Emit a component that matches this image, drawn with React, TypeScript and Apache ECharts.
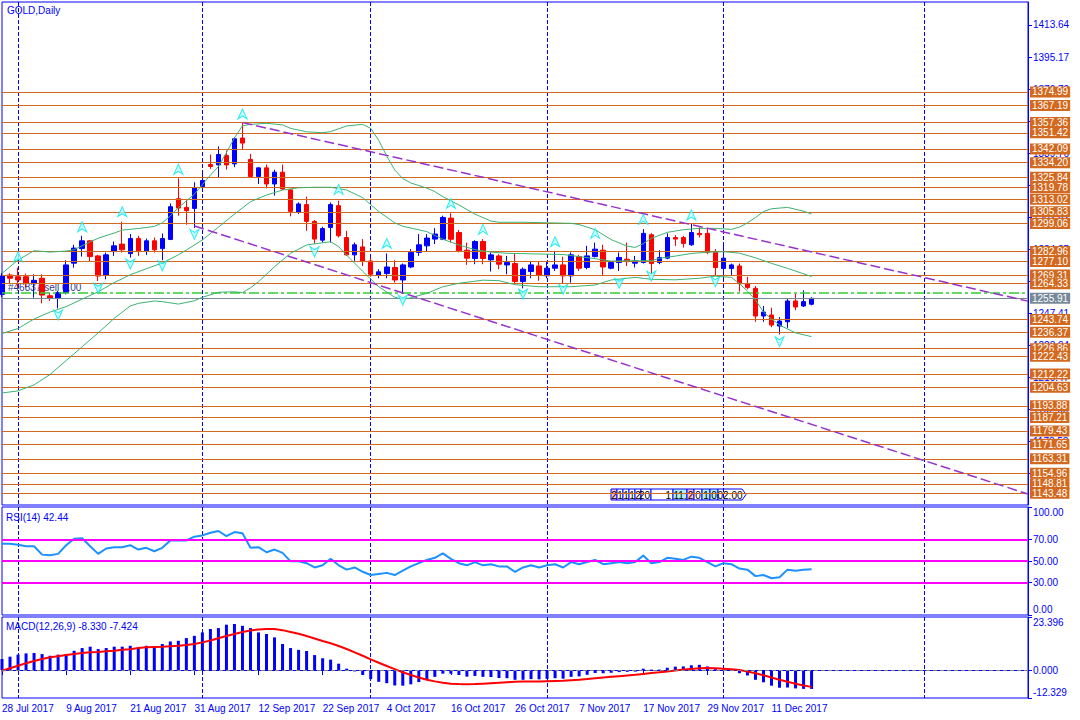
import React, { useEffect, useRef } from 'react';
import * as echarts from 'echarts';

const FONT = '"Liberation Sans", Arial, sans-serif';

const MONTH_NAMES = ['Jan', 'Feb', 'Mar', 'Apr', 'May', 'Jun', 'Jul', 'Aug', 'Sep', 'Oct', 'Nov', 'Dec'];
function tradingDays(startIso: string, count: number): string[] {
  const out: string[] = [];
  const d = new Date(startIso + 'T00:00:00Z');
  while (out.length < count) {
    const wd = d.getUTCDay();
    if (wd !== 0 && wd !== 6) out.push(`${d.getUTCDate()} ${MONTH_NAMES[d.getUTCMonth()]} ${d.getUTCFullYear()}`);
    d.setUTCDate(d.getUTCDate() + 1);
  }
  return out;
}

// ---------------- data ----------------
const START_DATE = '2017-07-28';
const SLOT_COUNT = 129; // bars + empty future area to the right
const categories = tradingDays(START_DATE, SLOT_COUNT);
const LAST_BAR = 101;
const DATE_LABEL_STEP = 8;
const monthGridIdx = [2, 25, 46, 68, 90, 115];

const opens = [1258.2, 1269.4, 1268.4, 1268.4, 1264.4, 1267.5, 1257.4, 1255.9, 1259.2, 1276.2, 1284.6, 1289.1, 1280.4, 1269.4, 1282.9, 1287.2, 1281.7, 1290.4, 1283.3, 1289.1, 1284.6, 1289.9, 1313.4, 1308.4, 1307.8, 1320.4, 1333.1, 1332.9, 1338.3, 1333.5, 1348.4, 1336.0, 1326.2, 1331.2, 1321.9, 1328.7, 1318.5, 1305.5, 1310.0, 1300.3, 1289.5, 1296.8, 1309.4, 1291.0, 1281.0, 1285.6, 1277.5, 1269.2, 1270.2, 1273.7, 1266.5, 1274.0, 1282.4, 1286.2, 1290.1, 1290.0, 1302.2, 1293.9, 1283.7, 1278.9, 1288.7, 1278.1, 1280.4, 1275.2, 1276.0, 1265.6, 1271.4, 1274.6, 1268.9, 1273.3, 1275.2, 1268.9, 1280.0, 1273.7, 1280.0, 1283.7, 1273.3, 1276.6, 1278.5, 1276.2, 1276.6, 1292.6, 1276.6, 1279.1, 1291.0, 1291.0, 1286.8, 1293.4, 1293.4, 1282.4, 1273.1, 1273.1, 1274.6, 1264.4, 1261.7, 1245.7, 1246.3, 1239.9, 1242.4, 1254.4, 1251.5, 1252.5];
const highs = [1270.5, 1270.4, 1273.6, 1270.2, 1269.8, 1269.8, 1259.2, 1260.2, 1277.9, 1286.8, 1292.0, 1289.5, 1281.0, 1282.3, 1288.7, 1300.1, 1293.0, 1292.0, 1290.4, 1291.0, 1293.3, 1310.7, 1325.2, 1312.7, 1322.9, 1329.2, 1338.9, 1343.6, 1341.2, 1348.9, 1357.3, 1339.3, 1331.5, 1333.1, 1330.1, 1333.1, 1318.8, 1311.3, 1314.6, 1301.1, 1297.2, 1311.3, 1312.3, 1294.9, 1288.1, 1290.1, 1279.5, 1272.7, 1281.8, 1277.9, 1276.0, 1284.3, 1293.0, 1293.0, 1296.4, 1303.6, 1305.0, 1295.3, 1288.1, 1289.5, 1290.1, 1282.4, 1281.4, 1280.4, 1281.8, 1273.7, 1277.5, 1277.5, 1277.5, 1283.3, 1279.9, 1282.4, 1281.0, 1286.2, 1288.1, 1286.8, 1277.5, 1282.4, 1288.1, 1280.4, 1295.9, 1293.5, 1283.7, 1293.4, 1292.4, 1292.0, 1298.8, 1296.8, 1295.9, 1284.3, 1288.2, 1276.0, 1276.0, 1268.3, 1263.0, 1251.5, 1250.5, 1245.1, 1255.9, 1258.6, 1260.5, 1256.5];
const lows = [1256.5, 1264.4, 1262.1, 1262.1, 1256.3, 1253.0, 1254.4, 1250.1, 1258.2, 1273.6, 1280.0, 1277.1, 1265.9, 1266.9, 1280.4, 1282.3, 1279.4, 1280.4, 1281.0, 1282.3, 1277.9, 1289.5, 1303.6, 1298.4, 1296.5, 1319.6, 1330.6, 1325.8, 1330.2, 1331.6, 1341.6, 1325.4, 1321.9, 1319.4, 1315.2, 1318.5, 1303.2, 1304.6, 1294.9, 1287.5, 1288.1, 1288.1, 1291.0, 1280.4, 1277.5, 1274.6, 1268.3, 1267.5, 1267.5, 1265.0, 1258.6, 1273.3, 1280.4, 1282.7, 1287.2, 1289.5, 1288.1, 1282.4, 1275.2, 1275.6, 1275.6, 1271.4, 1272.7, 1269.8, 1264.0, 1261.7, 1267.5, 1266.0, 1267.5, 1271.7, 1264.4, 1265.0, 1271.7, 1272.7, 1279.5, 1268.9, 1272.7, 1271.7, 1274.6, 1273.7, 1276.0, 1270.2, 1275.6, 1278.5, 1286.2, 1285.2, 1286.2, 1291.0, 1281.4, 1268.9, 1266.0, 1269.4, 1259.8, 1261.1, 1242.4, 1242.4, 1239.3, 1235.1, 1238.9, 1249.0, 1250.9, 1251.9];
const closes = [1268.8, 1267.5, 1266.5, 1264.4, 1266.3, 1257.8, 1255.9, 1259.2, 1275.2, 1284.9, 1289.1, 1280.0, 1268.8, 1281.0, 1286.2, 1283.9, 1290.4, 1283.3, 1289.1, 1283.9, 1290.4, 1308.8, 1308.0, 1306.5, 1319.6, 1323.9, 1332.0, 1338.9, 1332.9, 1348.0, 1345.5, 1326.2, 1331.2, 1321.9, 1328.7, 1319.0, 1306.1, 1310.4, 1300.3, 1290.1, 1296.2, 1310.0, 1292.0, 1281.0, 1286.8, 1277.5, 1269.8, 1271.2, 1274.0, 1266.5, 1275.2, 1282.4, 1286.8, 1290.7, 1293.0, 1302.6, 1290.0, 1283.3, 1279.1, 1288.7, 1278.9, 1281.0, 1275.6, 1276.6, 1265.6, 1272.7, 1275.2, 1269.4, 1273.3, 1275.2, 1268.9, 1281.0, 1273.3, 1280.4, 1284.3, 1274.0, 1276.6, 1279.5, 1277.1, 1277.5, 1293.4, 1276.0, 1279.5, 1291.0, 1290.1, 1287.6, 1293.9, 1292.6, 1282.4, 1273.7, 1279.1, 1275.2, 1264.4, 1262.1, 1245.7, 1248.0, 1240.5, 1242.8, 1254.4, 1250.9, 1254.0, 1255.91];

const rsi = [66, 66, 65, 63.7, 63.7, 55.9, 55.3, 56.6, 64.6, 70.6, 71, 63.7, 56.6, 61.6, 62.8, 62.8, 64.6, 60.6, 62.2, 59, 62.2, 69, 69, 69, 72.5, 73.7, 76.2, 77.8, 73.1, 76.8, 75.6, 62.2, 62.8, 58.1, 60.6, 57.5, 49.7, 49.7, 48, 44, 46, 52, 46, 42, 44, 40, 37, 38, 39, 37, 41, 45, 48, 51, 53, 57, 52, 48, 46, 49, 46, 47, 45, 45, 40, 44, 46, 44, 46, 47, 44, 49, 47, 49, 51, 47, 48, 49, 48, 49, 55, 48, 49, 53, 52, 51, 54, 53, 49, 45, 48, 47, 43, 42, 36, 37, 34, 35, 42, 41, 42, 42.44];
const macd = [4.85, 5.9, 6.8, 7.35, 7.5, 7.05, 6.3, 6.8, 7.05, 8.5, 9.7, 10.3, 9.26, 9.7, 10.3, 10.3, 10.7, 9.9, 10.7, 10.3, 11.5, 12.6, 12.9, 14.1, 15.1, 16.6, 18.1, 18.5, 20.0, 20.3, 19.5, 18.5, 16.6, 15.9, 14.4, 11.5, 9.7, 8.9, 8.4, 6.6, 5.2, 4.6, 2.8, 0.6, -0.6, -2.2, -4.0, -5.2, -5.8, -6.8, -6.9, -6.3, -5.3, -4.2, -3.0, -1.6, -1.6, -2.2, -2.9, -2.6, -3.0, -3.1, -3.5, -3.6, -4.3, -4.3, -4.0, -4.1, -3.9, -3.6, -3.8, -3.0, -2.8, -2.1, -1.3, -1.4, -1.2, -0.9, -0.8, -0.7, 0.6, 0.2, 0.2, 1.0, 1.5, 1.6, 2.1, 2.3, 1.6, 0.4, 0.2, -0.3, -1.4, -2.4, -4.3, -5.4, -6.9, -7.8, -7.7, -8.1, -8.3, -8.33];
const signal = [-0.3, 0.8, 1.9, 3.0, 4.0, 4.9, 5.6, 6.1, 6.6, 7.1, 7.5, 7.8, 8.0, 8.3, 8.5, 8.9, 9.2, 9.7, 10.1, 10.2, 10.3, 10.5, 10.7, 11.0, 11.5, 12.2, 13.0, 14.0, 15.0, 15.9, 16.8, 17.4, 17.9, 18.1, 18.1, 17.6, 16.8, 16.0, 15.0, 13.9, 12.8, 11.8, 10.6, 9.3, 7.8, 6.3, 4.7, 3.2, 1.8, 0.4, -1.0, -2.2, -3.3, -4.3, -5.0, -5.6, -6.0, -6.2, -6.3, -6.2, -6.0, -5.8, -5.6, -5.4, -5.2, -5.1, -5.0, -5.0, -4.9, -4.8, -4.7, -4.5, -4.3, -4.0, -3.6, -3.3, -3.0, -2.7, -2.4, -2.1, -1.7, -1.3, -1.0, -0.6, -0.2, 0.2, 0.5, 0.8, 0.9, 0.8, 0.6, 0.4, 0.0, -0.6, -1.4, -2.3, -3.3, -4.3, -5.2, -6.0, -6.8, -7.424];

const bbUpper = [[0, 1270.3], [2, 1278.0], [4, 1283.4], [6, 1282.6], [8, 1283.2], [9, 1284.0], [11, 1288.5], [12, 1290.6], [14, 1293.6], [15, 1295.3], [17, 1296.2], [19, 1297.4], [20, 1299.5], [21, 1303.5], [22, 1308.2], [24, 1316.0], [25, 1321.5], [26, 1327.0], [27, 1332.0], [28, 1340.0], [29, 1348.5], [30, 1355.5], [31, 1356.3], [33, 1356.9], [35, 1356.0], [36, 1354.0], [38, 1352.0], [40, 1351.5], [41, 1352.1], [43, 1355.4], [45, 1356.3], [46, 1354.0], [47, 1347.0], [48, 1338.0], [49, 1330.0], [50, 1325.0], [51, 1322.5], [53, 1319.5], [54, 1317.5], [55, 1314.6], [57, 1309.8], [59, 1304.5], [61, 1300.5], [62, 1299.8], [65, 1299.8], [68, 1299.5], [71, 1299.2], [72, 1298.5], [74, 1295.5], [76, 1289.8], [78, 1286.0], [79, 1285.3], [80, 1287.5], [81, 1290.5], [83, 1294.0], [85, 1295.5], [87, 1296.3], [89, 1296.3], [91, 1295.7], [92, 1297.0], [93, 1299.5], [94, 1302.5], [95, 1306.0], [96, 1307.6], [98, 1308.4], [100, 1306.2], [101, 1304.6]];
const bbMiddle = [[0, 1235.6], [2, 1238.5], [4, 1244.0], [6, 1248.0], [8, 1251.1], [10, 1255.5], [12, 1259.7], [14, 1265.0], [16, 1269.5], [18, 1273.0], [20, 1276.3], [22, 1281.0], [23, 1283.8], [25, 1289.6], [27, 1297.0], [29, 1304.5], [31, 1311.7], [33, 1315.5], [35, 1318.4], [37, 1319.7], [39, 1320.0], [41, 1320.0], [43, 1318.4], [45, 1314.0], [47, 1306.0], [49, 1299.5], [50, 1297.5], [53, 1294.4], [55, 1290.0], [57, 1286.7], [59, 1284.0], [61, 1282.6], [63, 1281.9], [66, 1281.6], [70, 1281.2], [72, 1280.0], [74, 1278.8], [76, 1277.4], [78, 1277.6], [81, 1277.6], [82, 1279.0], [84, 1280.3], [86, 1281.8], [88, 1282.5], [90, 1282.8], [92, 1282.0], [94, 1279.3], [96, 1276.1], [98, 1273.2], [101, 1268.5]];
const bbLower = [[0, 1201.3], [2, 1202.5], [4, 1206.0], [6, 1212.0], [8, 1220.0], [10, 1228.0], [12, 1236.0], [14, 1244.4], [16, 1251.5], [17, 1253.0], [19, 1254.4], [20, 1254.0], [22, 1252.6], [24, 1254.5], [25, 1256.5], [27, 1259.4], [29, 1259.7], [30, 1259.2], [31, 1262.0], [32, 1265.5], [34, 1274.2], [36, 1281.9], [38, 1286.7], [41, 1288.6], [42, 1285.7], [43, 1280.8], [45, 1271.5], [47, 1262.6], [49, 1256.5], [50, 1255.4], [51, 1256.2], [53, 1258.8], [55, 1262.6], [57, 1264.6], [60, 1266.4], [62, 1266.1], [64, 1263.8], [67, 1262.6], [71, 1262.6], [74, 1263.6], [76, 1266.5], [79, 1268.0], [81, 1266.9], [84, 1266.6], [87, 1267.5], [89, 1268.7], [91, 1268.0], [92, 1264.5], [93, 1260.0], [94, 1255.0], [95, 1248.0], [96, 1244.0], [97, 1240.5], [99, 1236.0], [101, 1233.8]];

const trendUpper = [[30, 1357.3], [128, 1254.3]];
const trendLower = [[24, 1297.7], [128, 1143.0]];

const fractalUp = [[2, 1279.9], [10, 1297.2], [15, 1305.9], [22, 1330.4], [30, 1362.3], [42, 1318.8], [48, 1287.6], [56, 1310.7], [60, 1295.7], [69, 1288.6], [74, 1293.4], [80, 1301.5], [86, 1304.0]];
const fractalDown = [[7, 1246.3], [12, 1261.7], [16, 1275.7], [20, 1274.7], [24, 1292.8], [39, 1282.8], [50, 1254.9], [65, 1258.4], [70, 1261.1], [77, 1264.6], [81, 1268.8], [89, 1265.5], [97, 1230.9]];

const levels = [1374.99, 1367.19, 1357.36, 1351.42, 1342.09, 1334.20, 1325.84, 1319.78, 1313.02, 1305.83, 1299.06, 1282.96, 1277.10, 1269.31, 1264.33, 1243.74, 1236.37, 1226.86, 1222.43, 1212.22, 1204.63, 1193.88, 1187.21, 1179.43, 1171.65, 1163.31, 1154.96, 1148.81, 1143.48];
const bidPrice = 1255.91;
const orderPrice = 1259.4;
const priceTicks = [1413.64, 1395.17, 1376.70, 1358.23, 1339.76, 1321.29, 1302.82, 1284.35, 1265.88, 1247.41, 1228.94, 1210.47, 1192.00, 1173.53, 1155.06];
const rsiLevels = [70, 50, 30];
const rsiTicks = [100, 70, 50, 30, 0];
const macdTicks = [23.396, 0, -12.329];

const titleText = 'GOLD,Daily';
const orderText = '#46837 sell 0.00';
const rsiText = 'RSI(14) 42.44';
const macdText = 'MACD(12,26,9) -8.330 -7.424';
const sessionTexts = ['2', '1', '1', '1', '2', '20:', '1', '11:', '2', '0', '1', '0', '02:00'];
const sessionFills = ['#FFC0CB', '#FFFFFF', '#FFFFFF', '#FFFFFF', '#FFFFFF', '#FFFFFF', '#FFFFFF', '#AFEEEE', '#FFC0CB', '#FFFFFF', '#AFEEEE', '#AFEEEE', '#FFFFFF'];

// ---------------- styles / layout ----------------
const BLUE = '#0000FF';
const RED = '#FF0000';
const ORANGE = '#D2691E';
const GREEN = '#3CB371';
const PURPLE = '#9932CC';
const CYAN = '#00E5EE';
const MAGENTA = '#FF00FF';
const FS = 10;
const sessionWidths = [6, 6, 6, 6, 6, 10, 22, 14, 7, 8, 8, 8, 24];

const ARROW_UP = 'path://M5,0 L10,10 L5,7 L0,10 Z';
const ARROW_DOWN = 'path://M0,0 L5,3 L10,0 L5,10 Z';

function buildOption() {
  const labelIdx = (idx: number) => idx % DATE_LABEL_STEP === 0 && idx <= LAST_BAR;
  const gridLineIdx = (idx: number) => monthGridIdx.indexOf(idx) >= 0;

  const grids = [
    { left: 2, top: 2, width: 1026, height: 503 },
    { left: 2, top: 507, width: 1026, height: 108 },
    { left: 2, top: 617, width: 1026, height: 81 },
  ].map((g) => ({ ...g, show: true, borderColor: BLUE, borderWidth: 1, backgroundColor: 'transparent', containLabel: false, outerBoundsMode: 'none' }));

  const xAxes = [0, 1, 2].map((i) => ({
    type: 'category',
    gridIndex: i,
    data: categories,
    boundaryGap: false,
    axisLine: { show: i === 2, lineStyle: { color: BLUE, width: 1 } },
    axisTick: { show: i === 2, interval: (idx: number) => labelIdx(idx), length: 5, lineStyle: { color: BLUE } },
    axisLabel: {
      show: i === 2,
      interval: (idx: number) => labelIdx(idx),
      align: 'left',
      color: BLUE,
      fontFamily: FONT,
      fontSize: FS,
      margin: 5,
    },
    splitLine: { show: true, interval: (idx: number) => gridLineIdx(idx), lineStyle: { color: BLUE, width: 1, type: [4, 2] } },
  }));

  const axisText = { color: BLUE, fontFamily: FONT, fontSize: FS };
  const yAxes = [
    {
      type: 'value', gridIndex: 0, position: 'right', min: 1136.66, max: 1426.91,
      axisLine: { show: true, lineStyle: { color: BLUE } },
      axisTick: { show: true, customValues: priceTicks, length: 4, lineStyle: { color: BLUE } },
      axisLabel: { show: true, customValues: priceTicks, formatter: (v: number) => v.toFixed(2), margin: 5, ...axisText },
      splitLine: { show: false },
    },
    {
      type: 'value', gridIndex: 1, position: 'right', min: 0, max: 100,
      axisLine: { show: true, lineStyle: { color: BLUE } },
      axisTick: { show: true, customValues: rsiTicks, length: 4, lineStyle: { color: BLUE } },
      axisLabel: {
        show: true, customValues: rsiTicks, margin: 5, ...axisText,
        formatter: (v: number) => (v === 100 ? `{t|${v.toFixed(2)}}` : v === 0 ? `{b|${v.toFixed(2)}}` : `{n|${v.toFixed(2)}}`),
        rich: { t: { ...axisText, padding: [11, 0, 0, 0] }, b: { ...axisText, padding: [0, 0, 11, 0] }, n: { ...axisText } },
      },
      splitLine: { show: false },
    },
    {
      type: 'value', gridIndex: 2, position: 'right', min: -12.329, max: 23.396,
      axisLine: { show: true, lineStyle: { color: BLUE } },
      axisTick: { show: true, customValues: macdTicks, length: 4, lineStyle: { color: BLUE } },
      axisLabel: {
        show: true, customValues: macdTicks, margin: 5, ...axisText,
        formatter: (v: number) => (v === macdTicks[0] ? `{t|${v.toFixed(3)}}` : v === macdTicks[2] ? `{b|${v.toFixed(3)}}` : `{n|${v.toFixed(3)}}`),
        rich: { t: { ...axisText, padding: [11, 0, 0, 0] }, b: { ...axisText, padding: [0, 0, 11, 0] }, n: { ...axisText } },
      },
      splitLine: { show: false },
    },
  ];

  const boxLabel = { show: true, position: 'end', distance: 2, color: '#FFFFFF', fontFamily: FONT, fontSize: FS, lineHeight: 10, padding: [1, 2, 0, 2] };

  const series: any[] = [
    {
      type: 'line', name: 'levels', xAxisIndex: 0, yAxisIndex: 0, data: [], z: 4, silent: true,
      markLine: {
        symbol: ['none', 'none'], silent: true, animation: false, label: boxLabel,
        data: [
          ...levels.map((v) => ({ yAxis: v, lineStyle: { color: ORANGE, width: 1, type: 'solid' }, label: { ...boxLabel, formatter: v.toFixed(2), backgroundColor: ORANGE } })),
          { yAxis: orderPrice, lineStyle: { color: '#32CD32', width: 1.5, type: [10, 3, 3, 3] }, label: { show: false } },
          { yAxis: bidPrice, lineStyle: { color: '#778899', width: 1, type: 'solid' }, label: { ...boxLabel, formatter: bidPrice.toFixed(2), backgroundColor: '#778899' } },
        ],
      },
    },
    {
      type: 'candlestick', xAxisIndex: 0, yAxisIndex: 0, barWidth: 5, z: 3,
      data: opens.map((o, i) => [o, closes[i], lows[i], highs[i]]),
      itemStyle: { color: BLUE, color0: RED, borderColor: BLUE, borderColor0: RED, borderWidth: 1 },
    },
    ...[bbUpper, bbMiddle, bbLower].map((d) => ({
      type: 'line', xAxisIndex: 0, yAxisIndex: 0, data: d, symbol: 'none', z: 5, silent: true,
      lineStyle: { color: GREEN, width: 1 },
    })),
    ...[trendUpper, trendLower].map((d) => ({
      type: 'line', xAxisIndex: 0, yAxisIndex: 0, data: d, symbol: 'none', z: 5, silent: true, clip: true,
      lineStyle: { color: PURPLE, width: 1.5, type: [10, 4] },
    })),
    {
      type: 'scatter', xAxisIndex: 0, yAxisIndex: 0, data: fractalUp, symbol: ARROW_UP, symbolSize: [9, 10], z: 6, silent: true,
      itemStyle: { color: '#B4FFFF', borderColor: CYAN, borderWidth: 1 },
    },
    {
      type: 'scatter', xAxisIndex: 0, yAxisIndex: 0, data: fractalDown, symbol: ARROW_DOWN, symbolSize: [9, 10], z: 6, silent: true,
      itemStyle: { color: '#B4FFFF', borderColor: CYAN, borderWidth: 1 },
    },
    {
      type: 'line', xAxisIndex: 1, yAxisIndex: 1, data: rsi, symbol: 'none', z: 4, silent: true,
      lineStyle: { color: '#1E90FF', width: 2 },
      markLine: {
        symbol: ['none', 'none'], silent: true, label: { show: false },
        data: rsiLevels.map((v) => ({ yAxis: v })),
        lineStyle: { color: MAGENTA, width: 2, type: 'solid' },
      },
    },
    {
      type: 'bar', xAxisIndex: 2, yAxisIndex: 2, data: macd, barWidth: 3, z: 3, silent: true,
      itemStyle: { color: BLUE },
      markLine: {
        symbol: ['none', 'none'], silent: true, label: { show: false },
        data: [{ yAxis: 0 }],
        lineStyle: { color: '#808080', width: 1, type: [4, 3] },
      },
    },
    {
      type: 'line', xAxisIndex: 2, yAxisIndex: 2, data: signal, symbol: 'none', z: 4, silent: true,
      lineStyle: { color: RED, width: 2 },
    },
  ];

  // session boxes row
  let bx = 611;
  const sessionGroup: any[] = [];
  sessionTexts.forEach((t, i) => {
    const w = sessionWidths[i];
    const last = i === sessionTexts.length - 1;
    sessionGroup.push({
      type: 'group', x: bx, y: 489,
      children: [
        last
          ? { type: 'polygon', shape: { points: [[0, 0], [w, 0], [w + 4, 5.5], [w, 11], [0, 11]] }, style: { fill: sessionFills[i], stroke: BLUE, lineWidth: 1 } }
          : { type: 'rect', shape: { x: 0, y: 0, width: w, height: 11 }, style: { fill: sessionFills[i], stroke: BLUE, lineWidth: 1 } },
        {
          type: 'text',
          style: { x: i === 6 ? w - 2 : w / 2, y: 6, text: t, align: i === 6 ? 'right' : 'center', verticalAlign: 'middle', fill: '#000000', fontFamily: FONT, fontSize: 10 },
        },
      ],
    });
    bx += w;
  });

  const text = (t: string, x: number, y: number, fill: string, z = 10) => ({
    type: 'text', x, y, z, silent: true,
    style: { text: t, fill, fontFamily: FONT, fontSize: FS, verticalAlign: 'middle' },
  });

  return {
    animation: false,
    backgroundColor: '#FFFFFF',
    grid: grids,
    xAxis: xAxes,
    yAxis: yAxes,
    series,
    graphic: [
      text(titleText, 7, 10, BLUE),
      text(orderText, 8, 287, '#2B3F8C', 1),
      text(rsiText, 6, 517, BLUE),
      text(macdText, 6, 626, BLUE),
      { type: 'group', z: 10, children: sessionGroup },
    ],
  };
}

export default function App() {
  const ref = useRef<HTMLDivElement>(null);
  useEffect(() => {
    if (!ref.current) return;
    const chart = echarts.init(ref.current, null, { renderer: 'svg' });
    chart.setOption(buildOption() as any);
    return () => chart.dispose();
  }, []);
  return <div ref={ref} style={{ position: 'fixed', left: 0, top: 0, width: 1080, height: 720, background: '#FFFFFF' }} />;
}
